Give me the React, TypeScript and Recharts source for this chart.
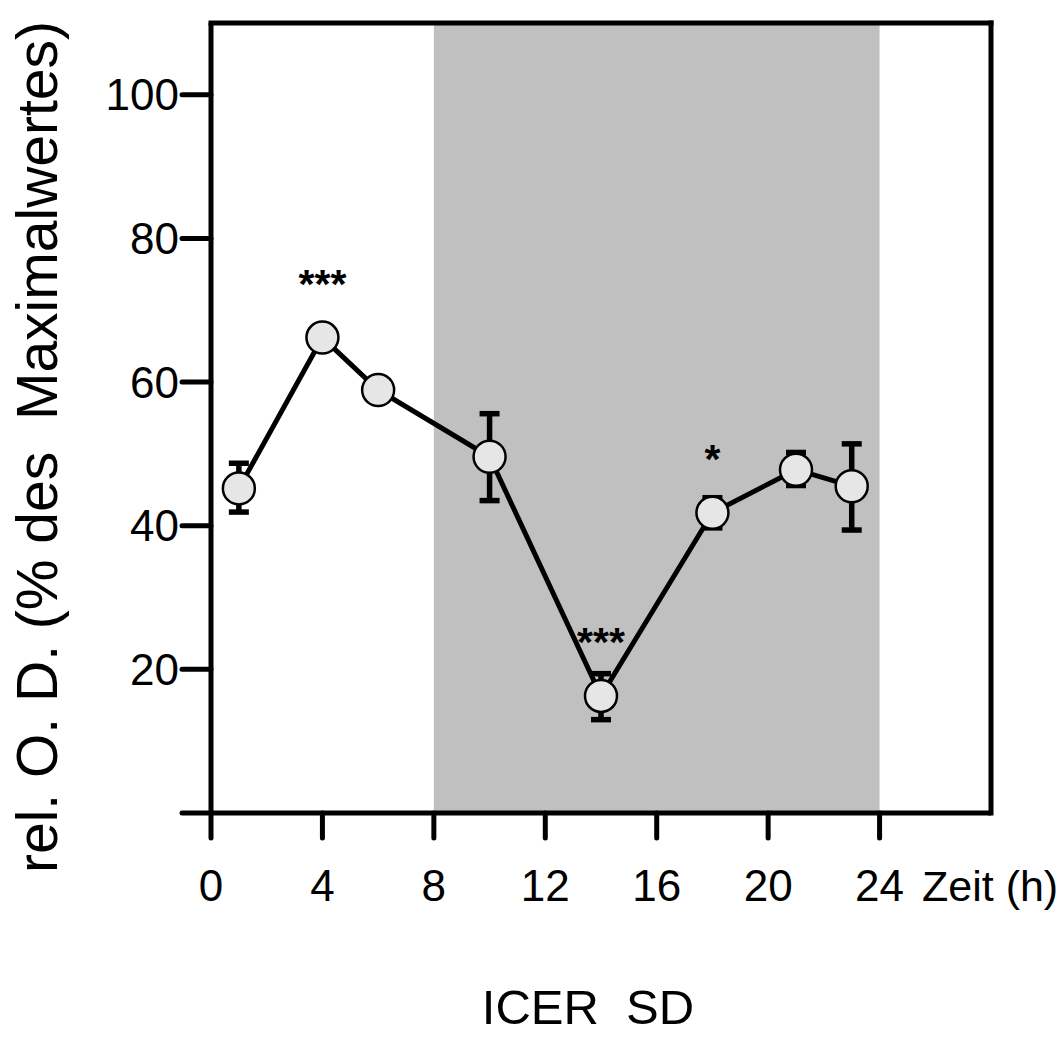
import {
  LineChart,
  Line,
  XAxis,
  YAxis,
  ReferenceArea,
  ReferenceLine,
  ErrorBar,
  LabelList,
} from 'recharts';

const FONT = '"Liberation Sans", Arial, sans-serif';

// Zeitpunkte (h) und rel. O.D. in % des Maximalwertes
const hours = [1, 4, 6, 10, 14, 18, 21, 23];
const means = [45.2, 66.2, 58.9, 49.6, 16.3, 41.8, 47.8, 45.5];
const upper = [48.7, 66.2, 58.9, 55.6, 19.4, 43.9, 50.2, 51.4];
const lower = [41.9, 66.2, 58.9, 43.5, 13.0, 39.7, 45.6, 39.4];
const sig = ['', '***', '', '', '***', '*', '', ''];

const xTicks = [0, 4, 8, 12, 16, 20, 24];
const yTicks = [0, 20, 40, 60, 80, 100];
const darkStart = 8;
const darkEnd = 24;

const data = hours.map((h, i) => ({
  hour: h,
  value: means[i],
  err: [means[i] - lower[i], upper[i] - means[i]],
  sig: sig[i],
}));

const renderSig = (props: any) => {
  const { x, y, value } = props;
  if (!value) return null;
  return (
    <text x={x} y={y - 40} textAnchor="middle" fontSize={41} fontWeight="bold" fontFamily={FONT} fill="#000">
      {value}
    </text>
  );
};

const xLabel = (props: any) => {
  const vb = props.viewBox;
  return (
    <g>
      <text x={vb.x + vb.width - 69} y={901} fontSize={43} fontFamily={FONT} fill="#000">
        Zeit (h)
      </text>
      <text
        x={588}
        y={1024}
        textAnchor="middle"
        fontSize={49}
        fontFamily={FONT}
        fill="#000"
        style={{ whiteSpace: 'pre' }}
      >
        {'ICER  SD'}
      </text>
    </g>
  );
};

const yLabel = () => (
  <text
    x={57}
    y={447}
    transform="rotate(-90, 57, 447)"
    textAnchor="middle"
    fontSize={57}
    fontFamily={FONT}
    fill="#000"
    style={{ whiteSpace: 'pre' }}
  >
    {'rel. O. D. (% des  Maximalwertes)'}
  </text>
);

export default function App() {
  return (
    <div style={{ position: 'absolute', left: 0, top: 0, background: '#fff' }}>
      <LineChart width={1064} height={1037} data={data} margin={{ top: 23, right: 73, bottom: 0, left: 0 }}>
        <ReferenceArea x1={darkStart} x2={darkEnd} y1={0} y2={110} fill="#c0c0c0" fillOpacity={1} stroke="none" />
        <XAxis
          type="number"
          dataKey="hour"
          domain={[0, 28]}
          ticks={xTicks}
          height={224}
          tickSize={25}
          tickMargin={32}
          axisLine={{ stroke: '#000', strokeWidth: 5 }}
          tickLine={{ stroke: '#000', strokeWidth: 5, strokeLinecap: 'round' }}
          tick={{ fontSize: 44, fill: '#000', fontFamily: FONT }}
          label={xLabel}
          allowDataOverflow
        />
        <YAxis
          type="number"
          domain={[0, 110]}
          ticks={yTicks}
          width={211}
          tickSize={29}
          tickMargin={3}
          tickFormatter={(v: number) => (v === 0 ? '' : String(v))}
          axisLine={{ stroke: '#000', strokeWidth: 5 }}
          tickLine={{ stroke: '#000', strokeWidth: 5, strokeLinecap: 'round' }}
          tick={{ fontSize: 44, fill: '#000', fontFamily: FONT }}
          label={yLabel}
          allowDataOverflow
        />
        <ReferenceLine y={110} stroke="#000" strokeWidth={5} strokeLinecap="square" />
        <ReferenceLine x={28} stroke="#000" strokeWidth={5} strokeLinecap="square" />
        <Line
          type="linear"
          dataKey="value"
          stroke="#000"
          strokeWidth={5}
          dot={{ r: 16, fill: '#e6e6e6', stroke: '#000', strokeWidth: 2.5 }}
          activeDot={false}
          isAnimationActive={false}
        >
          <ErrorBar dataKey="err" direction="y" width={10} strokeWidth={5.5} stroke="#000" isAnimationActive={false} />
          <LabelList dataKey="sig" content={renderSig} />
        </Line>
      </LineChart>
    </div>
  );
}
